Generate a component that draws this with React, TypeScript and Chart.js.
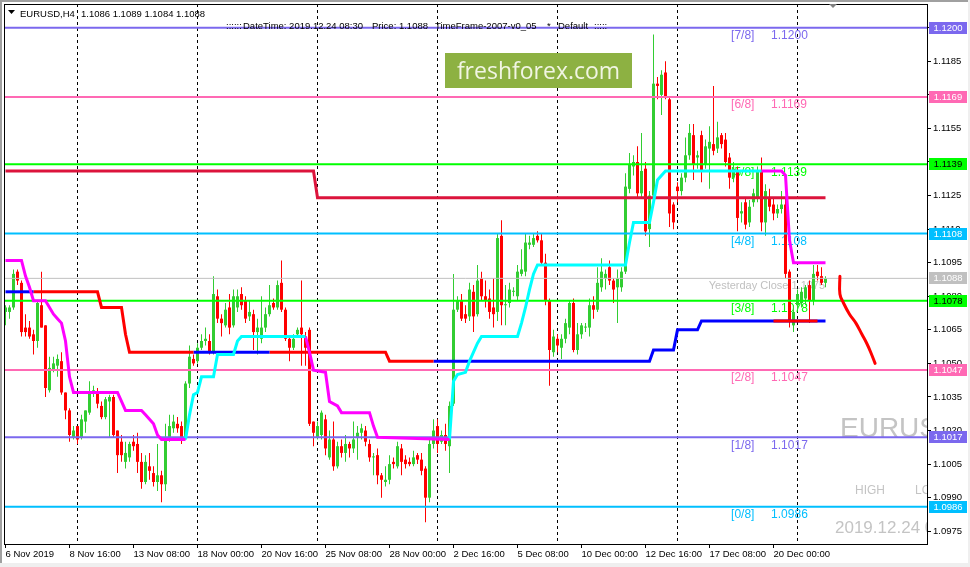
import React, { useEffect, useRef } from "react";
import { Chart, registerables } from "chart.js";
Chart.register(...registerables);

// ---- EURUSD H4 candles (bar index 0 = 6 Nov 2019 00:00) ----
const opens = [
  1.1073,1.1073,1.1075,1.1091,1.1086,1.1066,1.1066,1.1063,1.1060,1.1076,
  1.1067,1.1038,1.1047,1.1049,1.1051,1.1037,1.1029,1.1017,1.1022,1.1017,
  1.1024,1.1028,1.1037,1.1037,1.1031,1.1026,1.1033,1.1035,1.1020,1.1015,
  1.1006,1.1008,1.1015,1.1014,1.1006,1.0997,1.1004,1.1001,1.0997,1.1000,
  1.0996,1.1017,1.1021,1.1023,1.1022,1.1017,1.1041,1.1052,1.1051,1.1057,
  1.1060,1.1060,1.1055,1.1080,1.1070,1.1067,1.1075,1.1067,1.1075,1.1081,
  1.1078,1.1071,1.1072,1.1064,1.1061,1.1066,1.1072,1.1077,1.1075,1.1086,
  1.1074,1.1061,1.1057,1.1063,1.1066,1.1062,1.1065,1.1024,1.1017,1.1018,
  1.1025,1.1008,1.1016,1.1004,1.1013,1.1010,1.1014,1.1012,1.1017,1.1019,
  1.1020,1.1014,1.1008,1.1009,1.1000,1.0997,1.0998,1.1006,1.1004,1.1012,
  1.1007,1.1006,1.1005,1.1009,1.1007,1.1003,1.0990,1.1014,1.1022,1.1015,
  1.1018,1.1013,1.1032,1.1074,1.1078,1.1072,1.1071,1.1082,1.1072,1.1088,
  1.1080,1.1079,1.1075,1.1073,1.1107,1.1076,1.1077,1.1082,1.1080,1.1090,
  1.1091,1.1103,1.1103,1.1107,1.1105,1.1095,1.1078,1.1055,1.1061,1.1057,
  1.1061,1.1066,1.1077,1.1056,1.1063,1.1066,1.1066,1.1076,1.1074,1.1084,
  1.1088,1.1093,1.1087,1.1084,1.1084,1.1091,1.1128,1.1138,1.1140,1.1126,
  1.1137,1.1110,1.1125,1.1175,1.1170,1.1180,1.1168,1.1121,1.1129,1.1127,
  1.1133,1.1143,1.1152,1.1142,1.1152,1.1139,1.1146,1.1148,1.1146,1.1152,
  1.1150,1.1142,1.1133,1.1136,1.1117,1.1122,1.1113,1.1122,1.1124,1.1136,
  1.1113,1.1124,1.1121,1.1117,1.1119,1.1121,1.1091,1.1067,1.1076,1.1077,
  1.1079,1.1085,1.1078,1.1091,1.1089,1.1086,
];
const highs = [
  1.1076,1.1076,1.1092,1.1092,1.1087,1.1072,1.1069,1.1065,1.1078,1.1091,
  1.1067,1.1053,1.1053,1.1054,1.1055,1.1037,1.1030,1.1022,1.1022,1.1027,
  1.1029,1.1042,1.1040,1.1039,1.1033,1.1035,1.1036,1.1036,1.1020,1.1018,
  1.1015,1.1015,1.1018,1.1019,1.1010,1.1009,1.1010,1.1004,1.1014,1.1002,
  1.1023,1.1027,1.1027,1.1026,1.1024,1.1042,1.1058,1.1054,1.1059,1.1063,
  1.1066,1.1063,1.1089,1.1083,1.1072,1.1077,1.1081,1.1083,1.1083,1.1084,
  1.1080,1.1078,1.1074,1.1070,1.1080,1.1075,1.1085,1.1079,1.1087,1.1096,
  1.1075,1.1062,1.1063,1.1066,1.1087,1.1064,1.1066,1.1024,1.1024,1.1029,
  1.1027,1.1020,1.1024,1.1015,1.1016,1.1018,1.1015,1.1024,1.1022,1.1023,
  1.1022,1.1016,1.1010,1.1012,1.1001,1.1004,1.1009,1.1008,1.1015,1.1014,
  1.1009,1.1008,1.1011,1.1010,1.1010,1.1004,1.1017,1.1025,1.1025,1.1020,
  1.1023,1.1033,1.1090,1.1080,1.1081,1.1076,1.1086,1.1085,1.1094,1.1091,
  1.1087,1.1083,1.1088,1.1108,1.1114,1.1085,1.1086,1.1084,1.1094,1.1101,
  1.1108,1.1107,1.1108,1.1109,1.1108,1.1099,1.1079,1.1065,1.1063,1.1063,
  1.1070,1.1078,1.1079,1.1068,1.1068,1.1068,1.1079,1.1080,1.1093,1.1097,
  1.1092,1.1096,1.1088,1.1092,1.1093,1.1135,1.1144,1.1143,1.1147,1.1153,
  1.1140,1.1127,1.1197,1.1178,1.1181,1.1185,1.1169,1.1122,1.1131,1.1135,
  1.1151,1.1157,1.1157,1.1145,1.1154,1.1150,1.1156,1.1174,1.1158,1.1153,
  1.1153,1.1144,1.1140,1.1138,1.1122,1.1124,1.1123,1.1128,1.1138,1.1142,
  1.1130,1.1128,1.1124,1.1121,1.1127,1.1124,1.1092,1.1076,1.1083,1.1084,
  1.1085,1.1087,1.1094,1.1094,1.1093,1.1089,
];
const lows = [
  1.1067,1.1070,1.1074,1.1085,1.1062,1.1062,1.1061,1.1054,1.1057,1.1066,
  1.1035,1.1037,1.1046,1.1044,1.1036,1.1025,1.1015,1.1016,1.1014,1.1016,
  1.1019,1.1027,1.1035,1.1030,1.1025,1.1025,1.1017,1.1017,1.1001,1.1006,
  1.1003,1.1006,1.1011,1.1001,1.0994,1.0996,1.0998,1.0995,1.0993,1.0988,
  1.0993,1.1015,1.1019,1.1019,1.1014,1.1016,1.1039,1.1049,1.1050,1.1056,
  1.1058,1.1054,1.1054,1.1068,1.1062,1.1066,1.1063,1.1066,1.1073,1.1074,
  1.1068,1.1069,1.1056,1.1054,1.1059,1.1064,1.1071,1.1074,1.1074,1.1073,
  1.1060,1.1051,1.1056,1.1062,1.1049,1.1049,1.1022,1.1013,1.1016,1.1016,
  1.1009,1.1007,1.1002,1.1003,1.1008,1.1006,1.1008,1.1010,1.1007,1.1016,
  1.1013,1.1006,1.1000,1.0996,1.0990,1.0995,1.0996,1.1003,1.1003,1.1000,
  1.1003,1.1004,1.1004,1.1005,1.1000,1.0979,1.0988,1.1012,1.1010,1.1014,
  1.1011,1.1001,1.1031,1.1073,1.1069,1.1068,1.1069,1.1064,1.1071,1.1078,
  1.1075,1.1070,1.1066,1.1069,1.1067,1.1067,1.1075,1.1080,1.1078,1.1089,
  1.1089,1.1101,1.1102,1.1104,1.1094,1.1076,1.1040,1.1053,1.1055,1.1052,
  1.1059,1.1063,1.1055,1.1054,1.1061,1.1064,1.1062,1.1070,1.1073,1.1082,
  1.1083,1.1085,1.1077,1.1068,1.1082,1.1090,1.1126,1.1134,1.1124,1.1124,
  1.1107,1.1102,1.1123,1.1168,1.1161,1.1168,1.1111,1.1110,1.1122,1.1125,
  1.1131,1.1141,1.1132,1.1137,1.1131,1.1137,1.1128,1.1143,1.1144,1.1146,
  1.1138,1.1128,1.1131,1.1109,1.1113,1.1110,1.1111,1.1120,1.1122,1.1109,
  1.1107,1.1118,1.1114,1.1115,1.1117,1.1088,1.1066,1.1064,1.1074,1.1075,
  1.1076,1.1068,1.1076,1.1087,1.1085,1.1084,
];
const closes = [
  1.1075,1.1075,1.1090,1.1087,1.1064,1.1064,1.1062,1.1060,1.1077,1.1066,
  1.1039,1.1048,1.1050,1.1052,1.1037,1.1029,1.1018,1.1020,1.1016,1.1025,
  1.1029,1.1037,1.1038,1.1032,1.1026,1.1034,1.1035,1.1018,1.1009,1.1009,
  1.1010,1.1014,1.1013,1.1006,1.0997,1.1006,1.1002,1.0997,1.1000,1.0996,
  1.1017,1.1022,1.1024,1.1021,1.1017,1.1041,1.1053,1.1050,1.1057,1.1060,
  1.1061,1.1055,1.1081,1.1070,1.1068,1.1074,1.1066,1.1080,1.1080,1.1076,
  1.1070,1.1073,1.1064,1.1066,1.1066,1.1072,1.1076,1.1075,1.1085,1.1074,
  1.1061,1.1057,1.1061,1.1065,1.1063,1.1057,1.1023,1.1019,1.1022,1.1028,
  1.1012,1.1016,1.1004,1.1013,1.1010,1.1014,1.1012,1.1016,1.1019,1.1021,
  1.1015,1.1008,1.1008,1.1000,1.0998,1.0998,1.1005,1.1005,1.1013,1.1006,
  1.1005,1.1005,1.1008,1.1007,1.1002,1.0990,1.1014,1.1020,1.1014,1.1018,
  1.1014,1.1031,1.1074,1.1078,1.1070,1.1070,1.1083,1.1071,1.1087,1.1080,
  1.1078,1.1073,1.1072,1.1106,1.1076,1.1076,1.1083,1.1082,1.1091,1.1092,
  1.1104,1.1104,1.1106,1.1105,1.1095,1.1078,1.1056,1.1062,1.1058,1.1061,
  1.1068,1.1077,1.1056,1.1063,1.1067,1.1066,1.1076,1.1074,1.1086,1.1091,
  1.1090,1.1087,1.1083,1.1088,1.1091,1.1129,1.1139,1.1140,1.1126,1.1136,
  1.1109,1.1125,1.1175,1.1174,1.1179,1.1169,1.1117,1.1113,1.1127,1.1133,
  1.1143,1.1153,1.1139,1.1143,1.1136,1.1147,1.1149,1.1145,1.1151,1.1148,
  1.1140,1.1133,1.1137,1.1115,1.1118,1.1112,1.1120,1.1126,1.1136,1.1113,
  1.1127,1.1120,1.1117,1.1119,1.1121,1.1090,1.1069,1.1073,1.1081,1.1082,
  1.1084,1.1078,1.1090,1.1089,1.1086,1.1088,
];

// ---- axes ----
const xTickBars = [0, 16, 32, 48, 64, 80, 96, 112, 128, 144, 160, 176, 192];
const xTickLabels = [
  "6 Nov 2019", "8 Nov 16:00", "13 Nov 08:00", "18 Nov 00:00", "20 Nov 16:00",
  "25 Nov 08:00", "28 Nov 00:00", "2 Dec 16:00", "5 Dec 08:00", "10 Dec 00:00",
  "12 Dec 16:00", "17 Dec 08:00", "20 Dec 00:00",
];
const weekStartBars = [18, 48, 78, 108, 138, 168, 198];
const priceTicks = [
  1.0975, 1.099, 1.1005, 1.102, 1.1035, 1.105, 1.1065, 1.108,
  1.1095, 1.111, 1.1125, 1.114, 1.1155, 1.117, 1.1185, 1.12,
];

// ---- Murrey math levels ----
const murreyLevels = [1.12, 1.1169, 1.1139, 1.1108, 1.1078, 1.1047, 1.1017, 1.0986];
const murreyTags = ["[7/8]", "[6/8]", "[5/8]", "[4/8]", "[3/8]", "[2/8]", "[1/8]", "[0/8]"];
const murreyColors = ["#7B68EE", "#FF69B4", "#00FF00", "#00BFFF", "#00FF00", "#FF69B4", "#7B68EE", "#00BFFF"];
const murreyBoxText = ["#fff", "#fff", "#000", "#fff", "#000", "#fff", "#fff", "#fff"];

const currentPrice = 1.1088;
const yesterdayClose = 1.1075;

// ---- indicator lines: [bar, price] breakpoints ----
const weeklyLevel = [[0, 1.1136], [77, 1.1136], [78, 1.1124], [205, 1.1124]];
const trailBlue1 = [[0, 1.1082], [7, 1.1082]];
const trailRed1 = [[7, 1.1082], [23, 1.1082], [24, 1.1075], [29, 1.1075], [30, 1.1063], [31, 1.1055], [47, 1.1055]];
const trailBlue2 = [[47, 1.1055], [66, 1.1055]];
const trailRed2 = [[66, 1.1055], [95, 1.1055], [96, 1.1051], [107, 1.1051]];
const trailBlue3 = [[107, 1.1051], [161, 1.1051], [162, 1.1056], [167, 1.1056], [168, 1.1065], [173, 1.1065], [174, 1.1069], [205, 1.1069]];
const trailRed3 = [[192, 1.1069], [203, 1.1069]];

const stMagenta1 = [[0, 1.1096], [4, 1.1096], [5, 1.1089], [6, 1.1084], [7, 1.1078], [10, 1.1078], [11, 1.1075], [12, 1.1072], [13, 1.107], [14, 1.1068], [15, 1.106], [16, 1.1044], [17, 1.1037], [28, 1.1037], [29, 1.1033], [30, 1.1029], [34, 1.1029], [35, 1.1027], [36, 1.1025], [37, 1.1023], [38, 1.1018], [39, 1.1016], [45, 1.1016]];
const stCyan1 = [[45, 1.1016], [46, 1.1027], [47, 1.1036], [48, 1.1037], [49, 1.1044], [52, 1.1044], [53, 1.1054], [57, 1.1054], [58, 1.106], [59, 1.1062], [75, 1.1062]];
const stMagenta2 = [[75, 1.1062], [76, 1.1055], [77, 1.1047], [80, 1.1046], [81, 1.1033], [83, 1.1031], [84, 1.1028], [91, 1.1028], [92, 1.1022], [93, 1.1017], [111, 1.1016]];
const stCyan2 = [[111, 1.1016], [112, 1.1042], [113, 1.1045], [115, 1.1046], [116, 1.1051], [117, 1.1055], [118, 1.1059], [119, 1.1062], [128, 1.1062], [129, 1.1068], [130, 1.1075], [131, 1.1083], [132, 1.109], [133, 1.1094], [155, 1.1094], [156, 1.1104], [157, 1.1113], [161, 1.1113], [162, 1.1122], [163, 1.1132], [165, 1.1136], [189, 1.1136]];
const stMagenta3 = [[189, 1.1136], [194, 1.1136], [195, 1.1134], [196, 1.1105], [197, 1.1095], [205, 1.1095]];

const forecastCurve = [[208.6, 1.1089], [208.6, 1.1081], [209.5, 1.1077], [211.0, 1.1072], [212.6, 1.1068], [214.1, 1.1063], [215.3, 1.1059], [216.3, 1.1055], [217.4, 1.105]];

const FONT = "'Liberation Sans', Arial, sans-serif";

export default function App() {
  const ref = useRef<HTMLCanvasElement>(null);

  useEffect(() => {
    document.body.style.margin = "0";
    const canvas = ref.current!;
    const xMin = -0.375, xMax = 230.375;
    const yMin = 1.09693, yMax = 1.12106;
    const up = "#32CD32", down = "#FF0000";
    const candleColors = closes.map((c, i) => (c >= opens[i] ? up : down));
    const pts = (arr: number[][]) => arr.map(([x, y]) => ({ x, y }));
    const lineDs = (data: any[], color: string, width: number, order: number, extra: any = {}) => ({
      type: "line", data, borderColor: color, borderWidth: width, pointRadius: 0,
      fill: false, tension: 0, order, ...extra,
    });

    const datasets: any[] = [
      {
        type: "bar", data: lows.map((l, i) => ({ x: i, y: [l, highs[i]] })),
        backgroundColor: candleColors, barThickness: 1, grouped: false, inflateAmount: 0, order: 30,
      },
      {
        type: "bar", data: opens.map((o, i) => ({ x: i, y: [o, closes[i]] })),
        backgroundColor: candleColors, barThickness: 3, grouped: false, minBarLength: 1, inflateAmount: 0, order: 29,
      },
      ...murreyLevels.map((v, k) => lineDs([{ x: xMin, y: v }, { x: xMax, y: v }], murreyColors[k], 2, 20)),
      lineDs([{ x: xMin, y: currentPrice }, { x: xMax, y: currentPrice }], "#C0C0C0", 1, 21),
      lineDs(pts(weeklyLevel), "#DC143C", 3, 10),
      lineDs(pts(trailBlue1), "#0000FF", 3, 9),
      lineDs(pts(trailRed1), "#FF0000", 3, 9),
      lineDs(pts(trailBlue2), "#0000FF", 3, 9),
      lineDs(pts(trailRed2), "#FF0000", 3, 9),
      lineDs(pts(trailBlue3), "#0000FF", 3, 9),
      lineDs(pts(trailRed3), "#FF0000", 3, 8),
      lineDs(pts(stMagenta1), "#FF00FF", 3, 7),
      lineDs(pts(stCyan1), "#00FFFF", 3, 7),
      lineDs(pts(stMagenta2), "#FF00FF", 3, 7),
      lineDs(pts(stCyan2), "#00FFFF", 3, 7),
      lineDs(pts(stMagenta3), "#FF00FF", 3, 7),
      lineDs(pts(forecastCurve), "#FF0000", 3, 5, { tension: 0.4, borderCapStyle: "round", borderJoinStyle: "round" }),
    ];

    const overlay = {
      id: "overlay",
      beforeDraw(chart: any) {
        const { ctx, width, height } = chart;
        ctx.save();
        ctx.fillStyle = "#fff";
        ctx.fillRect(0, 0, width, height);
        ctx.restore();
      },
      beforeDatasetsDraw(chart: any) {
        const { ctx, chartArea: ca, scales } = chart;
        const xs = scales.x, ys = scales.y;
        ctx.save();
        ctx.beginPath();
        ctx.rect(ca.left, ca.top, ca.right - ca.left, ca.bottom - ca.top);
        ctx.clip();
        // week separators
        ctx.strokeStyle = "#000";
        ctx.lineWidth = 1;
        ctx.setLineDash([3, 3]);
        weekStartBars.forEach((b) => {
          const px = Math.floor(xs.getPixelForValue(b)) + 0.5;
          ctx.beginPath();
          ctx.moveTo(px, ca.top);
          ctx.lineTo(px, ca.bottom);
          ctx.stroke();
        });
        ctx.setLineDash([]);
        // watermark
        ctx.fillStyle = "#8DB142";
        ctx.fillRect(445, 53, 187, 35);
        ctx.fillStyle = "#F1F5E3";
        ctx.font = "23px 'Open Sans', sans-serif";
        ctx.textAlign = "center";
        ctx.textBaseline = "alphabetic";
        ctx.fillText("freshforex.com", 538.5, 79);
        // Murrey labels
        ctx.font = `12px ${FONT}`;
        ctx.textAlign = "left";
        ctx.textBaseline = "middle";
        murreyLevels.forEach((v, k) => {
          const py = ys.getPixelForValue(v) + 8;
          ctx.fillStyle = murreyColors[k];
          ctx.fillText(murreyTags[k], xs.getPixelForValue(181.4), py);
          ctx.fillText(v.toFixed(4), xs.getPixelForValue(191.4), py);
        });
        // yesterday close
        ctx.fillStyle = "#C0C0C0";
        ctx.font = `11px ${FONT}`;
        ctx.textAlign = "right";
        ctx.fillText(`Yesterday Close ${yesterdayClose.toFixed(4)}`, xs.getPixelForValue(204.9), ys.getPixelForValue(currentPrice) + 8);
        // big gray info texts (clipped by plot edge)
        ctx.textAlign = "left";
        ctx.textBaseline = "alphabetic";
        ctx.fillStyle = "#C4C4C4";
        ctx.font = `28px ${FONT}`;
        ctx.fillText("EURUSD", 840, 437);
        ctx.font = `12px ${FONT}`;
        ctx.fillText("HIGH", 855, 494);
        ctx.fillText("LOW", 915, 494);
        ctx.font = `17px ${FONT}`;
        ctx.fillText("2019.12.24 08:30", 835, 533);
        ctx.restore();
      },
      afterDraw(chart: any) {
        const { ctx, chartArea: ca, scales } = chart;
        const ys = scales.y;
        ctx.save();
        // frame
        ctx.strokeStyle = "#000";
        ctx.lineWidth = 1;
        ctx.strokeRect(ca.left + 0.5, ca.top + 0.5, ca.right - ca.left, ca.bottom - ca.top);
        // price boxes on the right axis
        const boxes = murreyLevels.map((v, k) => [v, murreyColors[k], murreyBoxText[k]] as [number, string, string]);
        boxes.push([currentPrice, "#C0C0C0", "#fff"]);
        ctx.font = `9.5px ${FONT}`;
        ctx.textAlign = "center";
        ctx.textBaseline = "middle";
        boxes.forEach(([v, bg, fg]) => {
          const py = Math.round(ys.getPixelForValue(v));
          ctx.fillStyle = bg;
          ctx.fillRect(ca.right + 2, py - 6, 38, 12);
          ctx.fillStyle = fg;
          ctx.fillText(v.toFixed(4), ca.right + 21, py + 0.5);
        });
        // header texts
        ctx.fillStyle = "#000";
        ctx.textAlign = "left";
        ctx.textBaseline = "alphabetic";
        ctx.beginPath();
        ctx.moveTo(8, 10); ctx.lineTo(15, 10); ctx.lineTo(11.5, 14); ctx.closePath();
        ctx.fill();
        const last = opens.length - 1;
        ctx.fillText("EURUSD,H4", 20, 16.5);
        ctx.fillText(
          [opens[last], highs[last], lows[last], closes[last]].map((v) => v.toFixed(4)).join(" "),
          81, 16.5
        );
        ctx.fillText("::::::", 226, 29);
        ctx.fillText("DateTime: 2019.12.24 08:30", 243, 29);
        ctx.fillText(`Price: ${closes[last].toFixed(4)}`, 372, 29);
        ctx.fillText("TimeFrame-2007-v0_05", 435, 29);
        ctx.fillText("*", 547, 29);
        ctx.fillText("Default", 558, 29);
        ctx.fillText(":::::", 594, 29);
        // chart shift marker
        ctx.fillStyle = "#808080";
        ctx.beginPath();
        ctx.moveTo(829, 4); ctx.lineTo(837, 4); ctx.lineTo(833, 8); ctx.closePath();
        ctx.fill();
        // window edges
        ctx.fillStyle = "#A0A0A0";
        ctx.fillRect(0, 0, 970, 2);
        ctx.fillRect(0, 0, 2, 567);
        ctx.fillStyle = "#EFEFEF";
        ctx.fillRect(0, 563, 970, 4);
        ctx.fillRect(968, 0, 2, 567);
        ctx.restore();
      },
    };

    const chart = new Chart(canvas, {
      type: "line",
      data: { datasets },
      options: {
        animation: false,
        responsive: false,
        devicePixelRatio: 1,
        events: [],
        layout: { autoPadding: false, padding: { left: 4, top: 4, right: 0, bottom: 0 } },
        plugins: { legend: { display: false }, tooltip: { enabled: false }, title: { display: false } },
        scales: {
          x: {
            type: "linear", position: "bottom", min: xMin, max: xMax, offset: false,
            grid: { display: true, drawOnChartArea: false, drawTicks: true, tickLength: 4, color: "#000", offset: false },
            border: { display: false },
            ticks: {
              autoSkip: false, maxRotation: 0, minRotation: 0, align: "start", padding: 1,
              color: "#000", font: { family: FONT, size: 9.5 },
              callback: (_v: any, i: number) => xTickLabels[i] ?? "",
            },
            afterBuildTicks: (s: any) => { s.ticks = xTickBars.map((v) => ({ value: v })); },
            afterFit: (s: any) => { s.height = 23; s.paddingLeft = 0; s.paddingRight = 0; },
          },
          y: {
            type: "linear", position: "right", min: yMin, max: yMax,
            grid: { display: true, drawOnChartArea: false, drawTicks: true, tickLength: 4, color: "#000" },
            border: { display: false },
            ticks: {
              padding: 2, color: "#000", font: { family: FONT, size: 9.5 },
              callback: (v: any) => Number(v).toFixed(4),
            },
            afterBuildTicks: (s: any) => { s.ticks = priceTicks.map((v) => ({ value: v })); },
            afterFit: (s: any) => { s.width = 43; s.paddingTop = 0; s.paddingBottom = 0; },
          },
        },
      } as any,
      plugins: [overlay],
    });
    return () => chart.destroy();
  }, []);

  return (
    <div style={{ width: 970, height: 567 }}>
      <canvas ref={ref} width={970} height={567} style={{ display: "block" }} />
    </div>
  );
}
